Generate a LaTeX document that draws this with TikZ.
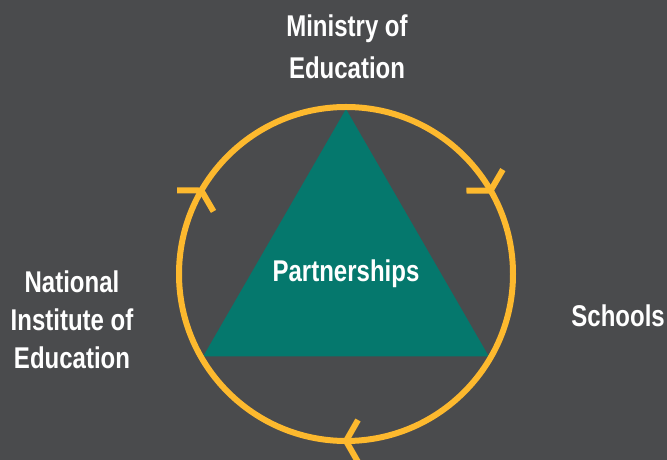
\documentclass[tikz,border=0pt]{standalone}
\usepackage{fontspec}
\setmainfont{Liberation Sans}[FakeStretch=0.8]
\usetikzlibrary{positioning,calc,decorations.markings}
\definecolor{slate}{HTML}{4A4B4D}
\definecolor{ringgold}{HTML}{FDB92E}
\definecolor{partteal}{HTML}{05786D}
\tikzset{
    label/.style={text=white,font=\fontsize{30}{42}\selectfont\bfseries,align=center,inner sep=0pt},
    ring/.style={draw=ringgold,line width=6pt},
    barbs/.style={postaction={decorate,decoration={markings,
        mark=at position #1 with {\draw[ringgold,line width=6pt] (-12,21) -- (0,0) -- (-12,-21);}}}},
}

\begin{document}
\begin{tikzpicture}[x=1pt,y=1pt]
    \fill[slate] (0,0) rectangle (667,460);
    \useasboundingbox (0,0) rectangle (667,460);
    \coordinate (c) at (346,186);

    % inscribed triangle
    \path (c) ++(90:165) coordinate (top)
          (c) ++(210:165) coordinate (left)
          (c) ++(330:165) coordinate (right);
    \fill[partteal] (top) -- (left) -- (right) -- cycle;
    \node[label] (part) at (c) {Partnerships};

    % clockwise ring with three open arrow heads
    \draw[ring,barbs=0.1667,barbs=0.5,barbs=0.8333]
        (c) ++(90:167) arc[start angle=90,end angle=-270,radius=167];

    \node[label] (moe) at (347,413) {Ministry of\\Education};
    \node[label,font=\fontsize{30}{38}\selectfont\bfseries] (nie) at (72,140) {National\\Institute of\\Education};
    \node[label,anchor=east] (schools) at (665,144) {Schools};
\end{tikzpicture}
\end{document}
